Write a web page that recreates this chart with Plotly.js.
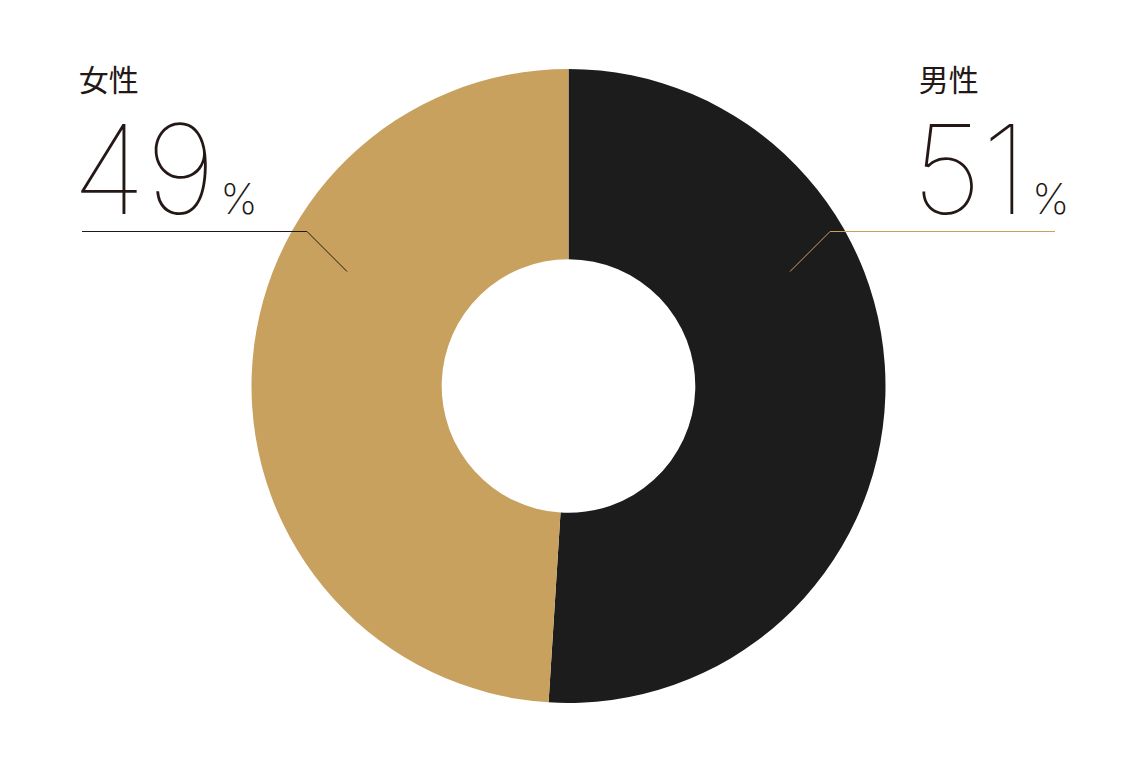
<!DOCTYPE html>
<html>
<head>
<meta charset="utf-8">
<script src="https://cdn.plot.ly/plotly-3.0.1.min.js"></script>
<style>
  html, body { margin: 0; padding: 0; background: #fff; }
  #chart { width: 1136px; height: 758px; }
</style>
</head>
<body>
<div id="chart"></div>
<script>
// data
var labels = ['男性', '女性']
var values = [51, 49]
var colors = ['#1c1c1d', '#c9a15f']

var textColor = '#231815'
var W = 1136, H = 758

var trace = {
    type: 'pie',
    labels: labels,
    values: values,
    sort: false,
    direction: 'clockwise',
    rotation: 0,
    hole: 0.4,
    marker: { colors: colors, line: { width: 0 } },
    textinfo: 'none',
    hoverinfo: 'skip',
    showlegend: false,
    domain: { x: [251/W, 886/W], y: [1 - 703/H, 1 - 69/H] },
}

// one text block per slice: label on top, big number + % below
var blocks = [
    { i: 1, x: 70, line: [[82, 231.5], [307, 231.5], [347, 271.5]], lc: textColor },
    { i: 0, x: 910, line: [[1055, 231.5], [830, 231.5], [790, 271.5]], lc: colors[1] },
]

var annotations = []
var shapes = []

blocks.forEach(function (b) {
    var txt = '<span style="font-family:Noto Sans CJK JP;font-weight:400;font-size:30px">&nbsp;' + labels[b.i] + '</span>' +
        '<br><span style="font-size:124px">' + values[b.i] + '</span>' +
        '<span style="font-size:16px"> </span>' +
        '<span style="font-size:42px;font-weight:200">%</span>'
    annotations.push({
        xref: 'paper', yref: 'paper', x: b.x / W, y: 1 - 54 / H,
        xanchor: 'left', yanchor: 'top', align: 'left', showarrow: false,
        text: txt,
        font: { family: 'Inter, "Noto Sans CJK JP", sans-serif', size: 94.6, color: textColor, weight: 100 },
    })
    var p = b.line
    var path = 'M' + p.map(function (q) { return (q[0] / W) + ',' + (1 - q[1] / H) }).join(' L')
    shapes.push({
        type: 'path', xref: 'paper', yref: 'paper', path: path,
        line: { color: b.lc, width: 1 },
    })
})

var layout = {
    width: W,
    height: H,
    margin: { l: 0, r: 0, t: 0, b: 0 },
    paper_bgcolor: '#fff',
    plot_bgcolor: '#fff',
    annotations: annotations,
    shapes: shapes,
}

Plotly.newPlot('chart', [trace], layout, { displayModeBar: false, staticPlot: true })
</script>
</body>
</html>
